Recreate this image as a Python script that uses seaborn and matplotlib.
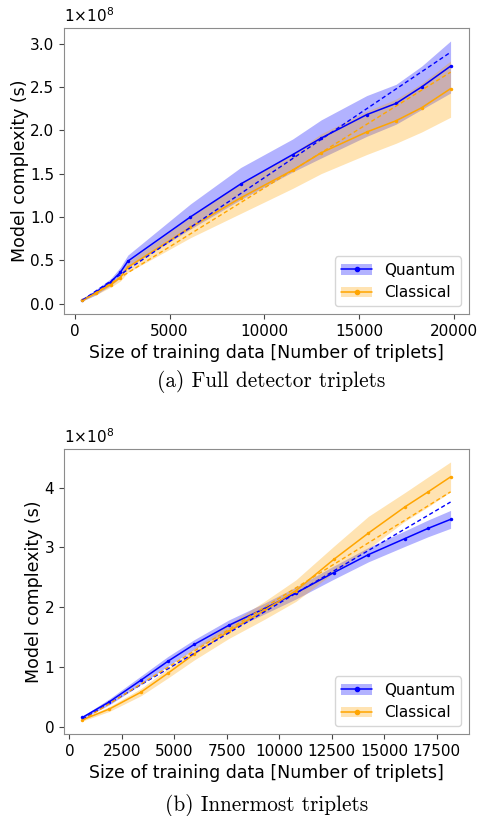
import pandas as pd
import seaborn as sns
import matplotlib.pyplot as plt
from matplotlib.patches import Patch
from matplotlib.lines import Line2D

# values in units of 1e8 seconds

# (a) full detector triplets
full_x = [400, 1100, 1900, 2400, 2800, 6100, 8750, 11500, 13000, 15400, 16950, 18300, 19825]
full_q = [0.04, 0.13, 0.25, 0.36, 0.49, 1.00, 1.38, 1.72, 1.91, 2.18, 2.31, 2.50, 2.74]
full_q_lo = [0.03, 0.10, 0.21, 0.30, 0.42, 0.86, 1.20, 1.52, 1.68, 1.93, 2.07, 2.24, 2.43]
full_q_hi = [0.05, 0.16, 0.29, 0.42, 0.56, 1.15, 1.57, 1.90, 2.12, 2.40, 2.53, 2.74, 3.03]
full_c = [0.04, 0.12, 0.22, 0.30, 0.42, 0.88, 1.22, 1.54, 1.74, 1.98, 2.11, 2.26, 2.48]
full_c_lo = [0.03, 0.10, 0.19, 0.26, 0.36, 0.76, 1.04, 1.33, 1.50, 1.72, 1.85, 1.98, 2.15]
full_c_hi = [0.05, 0.14, 0.25, 0.34, 0.48, 1.00, 1.39, 1.73, 1.96, 2.22, 2.36, 2.54, 2.80]
full_fit_x = [400, 19825]
full_fit_q = [0.04, 2.90]
full_fit_c = [0.03, 2.67]

# (b) innermost triplets
inner_x = [620, 1900, 3400, 4700, 5950, 7600, 9300, 10800, 12600, 14250, 16000, 17100, 18170]
inner_q = [0.16, 0.42, 0.78, 1.10, 1.38, 1.70, 1.98, 2.24, 2.58, 2.88, 3.15, 3.32, 3.47]
inner_q_lo = [0.14, 0.37, 0.71, 1.02, 1.30, 1.61, 1.89, 2.14, 2.47, 2.76, 3.02, 3.18, 3.32]
inner_q_hi = [0.18, 0.47, 0.85, 1.18, 1.46, 1.79, 2.07, 2.34, 2.69, 3.00, 3.28, 3.46, 3.62]
inner_c = [0.12, 0.30, 0.58, 0.90, 1.22, 1.60, 1.95, 2.28, 2.80, 3.24, 3.68, 3.93, 4.18]
inner_c_lo = [0.10, 0.26, 0.52, 0.82, 1.12, 1.48, 1.80, 2.10, 2.58, 2.98, 3.44, 3.68, 3.93]
inner_c_hi = [0.14, 0.34, 0.64, 0.98, 1.32, 1.72, 2.10, 2.46, 3.02, 3.52, 3.92, 4.18, 4.43]
inner_fit_x = [620, 18170]
inner_fit_q = [0.13, 3.76]
inner_fit_c = [0.11, 3.93]

captions = ["(a) Full detector triplets", "(b) Innermost triplets"]

sns.set_style("ticks")
plt.rcParams['font.family'] = ['DejaVu Sans']
plt.rcParams['text.color'] = 'black'
plt.rcParams['axes.labelcolor'] = 'black'
plt.rcParams['xtick.color'] = 'black'
plt.rcParams['ytick.color'] = 'black'

fig = plt.figure(figsize=(4.79, 8.16), dpi=100)
ax1 = fig.add_axes([0.1336, 0.6152, 0.8455, 0.3505])
ax2 = fig.add_axes([0.1336, 0.1005, 0.8455, 0.3493])

panels = [
    (ax1, full_x, full_q, full_q_lo, full_q_hi, full_c, full_c_lo, full_c_hi,
     full_fit_x, full_fit_q, full_fit_c),
    (ax2, inner_x, inner_q, inner_q_lo, inner_q_hi, inner_c, inner_c_lo, inner_c_hi,
     inner_fit_x, inner_fit_q, inner_fit_c),
]

for i, (ax, x, q, qlo, qhi, c, clo, chi, fx, fq, fc) in enumerate(panels):
    ax.fill_between(x, qlo, qhi, color='blue', alpha=0.3, lw=0)
    ax.fill_between(x, clo, chi, color='orange', alpha=0.3, lw=0)
    df = pd.DataFrame({'x': x, 'q': q, 'c': c})
    sns.lineplot(data=df, x='x', y='q', ax=ax, color='blue', lw=1.1,
                 marker='o', markersize=2.5, markeredgewidth=0)
    sns.lineplot(data=df, x='x', y='c', ax=ax, color='orange', lw=1.1,
                 marker='o', markersize=2.5, markeredgewidth=0)
    fit = pd.DataFrame({'x': fx, 'q': fq, 'c': fc})
    sns.lineplot(data=fit, x='x', y='q', ax=ax, color='blue', lw=1,
                 linestyle=(0, (3, 2)))
    sns.lineplot(data=fit, x='x', y='c', ax=ax, color='orange', lw=1,
                 linestyle=(0, (3, 2)))

    ax.set_xlabel('Size of training data [Number of triplets]', fontsize=12.5)
    ax.set_ylabel('Model complexity (s)', fontsize=12.5, labelpad=1)
    ax.tick_params(labelsize=11, color='#444444', length=3.5)
    for s in ax.spines.values():
        s.set_visible(True)
        s.set_color('#8c8c8c')
    ax.text(0, 1.012, r'1$\times$10$^{8}$', transform=ax.transAxes,
            ha='left', va='bottom', fontsize=11)

    handles = [
        (Patch(facecolor='blue', alpha=0.3, lw=0),
         Line2D([], [], color='blue', lw=1.1, marker='o', markersize=3)),
        (Patch(facecolor='orange', alpha=0.3, lw=0),
         Line2D([], [], color='orange', lw=1.1, marker='o', markersize=3)),
    ]
    ax.legend(handles, ['Quantum', 'Classical'], loc='lower right', fontsize=11)

fig.text(0.567, 0.533, captions[0], family='cmr10', fontsize=15.3,
         ha='center', va='center')
fig.text(0.557, 0.0125, captions[1], family='cmr10', fontsize=15.3,
         ha='center', va='center')

fig.savefig('out.png', dpi=100)
